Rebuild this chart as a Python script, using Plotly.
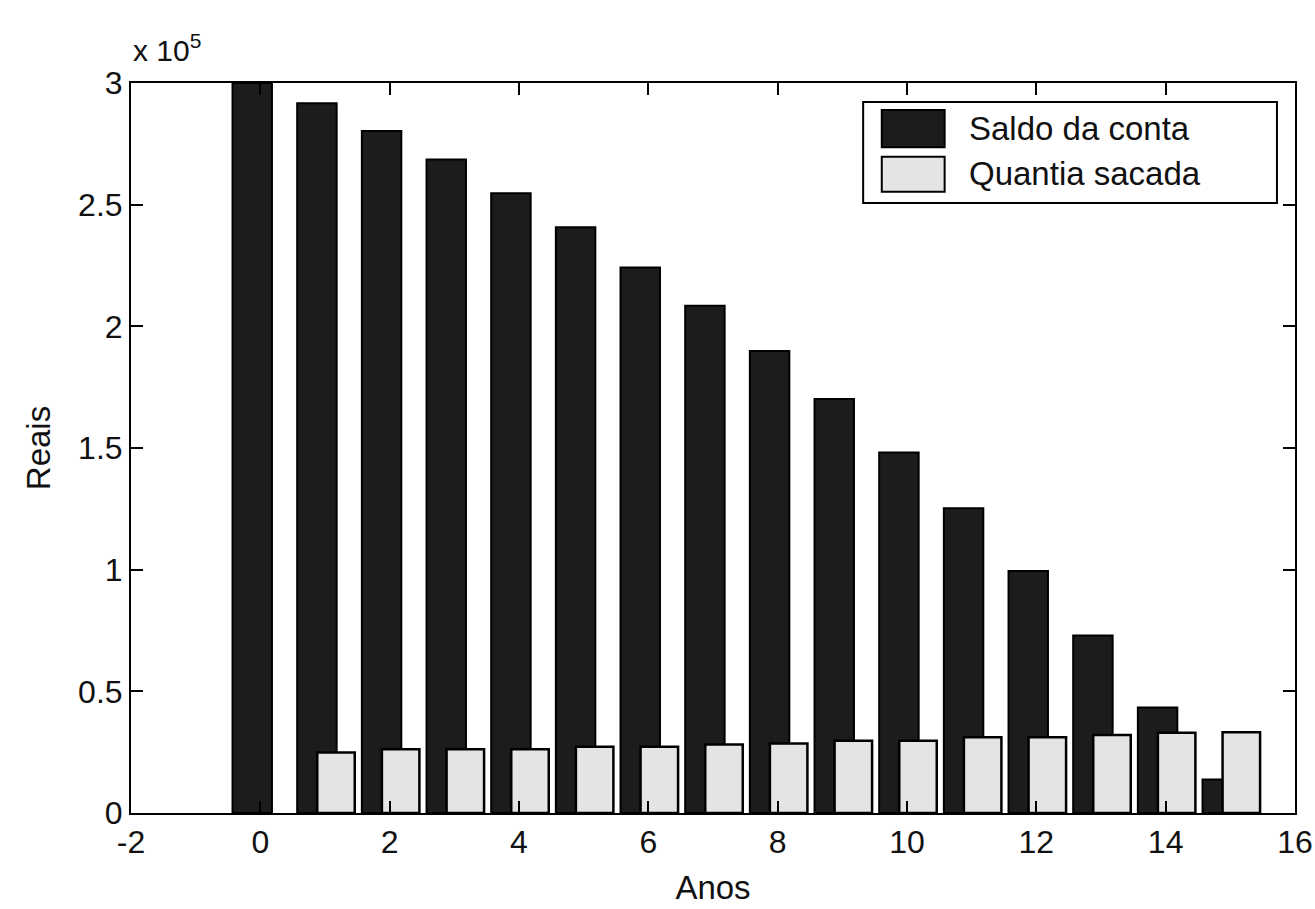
import plotly.graph_objects as go

anos = list(range(0, 16))
saldo_da_conta = [300000, 291700, 280300, 268600, 254700, 240700, 224200, 208500,
                  189900, 170100, 148200, 125200, 99500, 72900, 43400, 13800]
quantia_sacada = [0, 24900, 26200, 26200, 26200, 27200, 27200, 28200,
                  28600, 29700, 29700, 31100, 31100, 32100, 33000, 33200]

y_tick_vals = [0, 50000, 100000, 150000, 200000, 250000, 300000]
y_tick_text = ["0", "0.5", "1", "1.5", "2", "2.5", "3"]
x_tick_vals = [-2, 0, 2, 4, 6, 8, 10, 12, 14, 16]
x_tick_text = ["-2", "0", "2", "4", "6", "8", "10", "12", "14", "16"]

FONT = "Liberation Sans, Arial, sans-serif"

# zero-height bars get no outline (as in the original, where they are invisible)
white_line_w = [0 if v == 0 else 2.5 for v in quantia_sacada]

fig = go.Figure()
fig.add_trace(go.Bar(
    x=anos, y=saldo_da_conta, name="Saldo da conta",
    width=0.61, offset=-0.43,
    marker=dict(color="#1c1c1c", line=dict(color="#000000", width=2)),
    showlegend=False,
))
fig.add_trace(go.Bar(
    x=anos, y=quantia_sacada, name="Quantia sacada",
    width=0.58, offset=-0.12,
    marker=dict(color="#e4e4e4", line=dict(color="#000000", width=white_line_w)),
    showlegend=False,
))

fig.update_layout(
    barmode="overlay",
    width=1315, height=909,
    margin=dict(l=131, r=20, t=83, b=96),
    paper_bgcolor="white", plot_bgcolor="white",
    font=dict(family=FONT, size=32, color="#111111"),
)
fig.update_xaxes(
    range=[-2, 16], tickvals=x_tick_vals, ticktext=x_tick_text,
    ticks="inside", ticklen=12, tickwidth=2, tickcolor="black",
    showline=True, linecolor="black", linewidth=2, mirror="ticks",
    showgrid=False, zeroline=False, automargin=False,
    tickfont=dict(size=32),
    title=dict(text="Anos", font=dict(size=33), standoff=16),
)
fig.update_yaxes(
    range=[0, 300000], tickvals=y_tick_vals, ticktext=y_tick_text,
    ticks="inside", ticklen=12, tickwidth=2, tickcolor="black",
    showline=True, linecolor="black", linewidth=2, mirror="ticks",
    showgrid=False, zeroline=False, automargin=False,
    tickfont=dict(size=32),
    title=dict(text="Reais", font=dict(size=33), standoff=18),
)

# exponent label
fig.add_annotation(xref="paper", yref="paper", x=0.0, y=1.0, xanchor="left", yanchor="bottom",
                   yshift=14, showarrow=False, text="x 10<sup>5</sup>",
                   font=dict(size=30, family=FONT, color="#111111"))

# legend box (drawn manually to match the swatch size)
fig.add_shape(type="rect", xref="paper", yref="paper", x0=0.629, x1=0.9845, y0=0.8356, y1=0.974,
              line=dict(color="black", width=2), fillcolor="white", layer="above")
fig.add_shape(type="rect", xref="paper", yref="paper", x0=0.645, x1=0.699, y0=0.912, y1=0.963,
              line=dict(color="black", width=2), fillcolor="#1c1c1c", layer="above")
fig.add_shape(type="rect", xref="paper", yref="paper", x0=0.645, x1=0.699, y0=0.851, y1=0.899,
              line=dict(color="black", width=2), fillcolor="#e4e4e4", layer="above")
fig.add_annotation(xref="paper", yref="paper", x=0.718, y=0.9375, xanchor="left", yanchor="middle",
                   showarrow=False, text="Saldo da conta", font=dict(size=33, family=FONT, color="#111111"))
fig.add_annotation(xref="paper", yref="paper", x=0.718, y=0.876, xanchor="left", yanchor="middle",
                   showarrow=False, text="Quantia sacada", font=dict(size=33, family=FONT, color="#111111"))

fig.write_html("out.html")
